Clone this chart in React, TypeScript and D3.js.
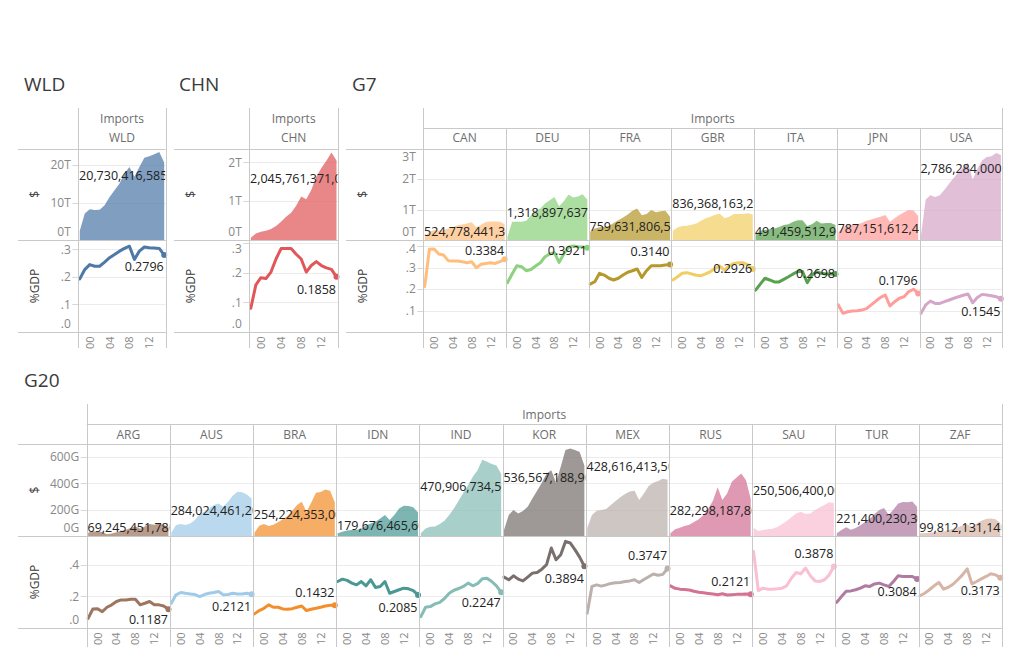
import React from 'react';
import * as d3 from 'd3';

// ---------------- DATA ----------------
const YEARS = [1998, 1999, 2000, 2001, 2002, 2003, 2004, 2005, 2006, 2007, 2008, 2009, 2010, 2011, 2012, 2013, 2014, 2015];
const X_TICKS = [2000, 2004, 2008, 2012];
const X_TICK_LABELS = ['00', '04', '08', '12'];

// Imports in billions of US$ and imports as share of GDP
const WLD_USD = [2500, 7100, 8200, 8000, 8100, 9300, 11500, 13300, 15100, 17800, 19500, 16900, 19500, 22000, 22400, 22900, 23500, 20730.416585];
const WLD_GDP = [0.193, 0.227, 0.245, 0.239, 0.239, 0.254, 0.27, 0.282, 0.294, 0.304, 0.312, 0.264, 0.294, 0.309, 0.306, 0.305, 0.304, 0.2796];

const CHN_USD = [60, 170, 210, 240, 280, 360, 470, 600, 700, 880, 1120, 1050, 1290, 1630, 1850, 2040, 2250, 2045.761371];
const CHN_GDP = [0.08, 0.159, 0.183, 0.18, 0.202, 0.246, 0.281, 0.281, 0.281, 0.262, 0.246, 0.202, 0.224, 0.237, 0.224, 0.216, 0.211, 0.1858];

const CAN_USD = [110, 270, 330, 300, 330, 380, 430, 480, 510, 540, 580, 410, 500, 590, 610, 610, 600, 524.7784413];
const CAN_GDP = [0.211, 0.385, 0.386, 0.363, 0.358, 0.332, 0.33, 0.33, 0.327, 0.322, 0.327, 0.299, 0.315, 0.319, 0.322, 0.319, 0.327, 0.3384];
const DEU_USD = [100, 600, 600, 600, 630, 815, 955, 1030, 1200, 1300, 1410, 1110, 1270, 1490, 1390, 1430, 1500, 1318.897637];
const DEU_GDP = [0.229, 0.27, 0.308, 0.304, 0.285, 0.291, 0.307, 0.322, 0.35, 0.363, 0.369, 0.324, 0.363, 0.394, 0.4, 0.397, 0.395, 0.3921];
const FRA_USD = [270, 380, 420, 430, 460, 560, 650, 740, 840, 960, 1030, 815, 850, 980, 910, 945, 955, 759.6318065];
const FRA_GDP = [0.223, 0.234, 0.273, 0.265, 0.25, 0.242, 0.25, 0.265, 0.278, 0.285, 0.293, 0.254, 0.285, 0.308, 0.308, 0.308, 0.312, 0.314];
const GBR_USD = [300, 410, 460, 470, 500, 540, 630, 710, 760, 830, 860, 710, 760, 850, 850, 850, 880, 836.3681632];
const GBR_GDP = [0.242, 0.257, 0.273, 0.276, 0.27, 0.264, 0.262, 0.27, 0.281, 0.296, 0.307, 0.288, 0.308, 0.319, 0.322, 0.322, 0.312, 0.2926];
const ITA_USD = [200, 300, 330, 350, 380, 430, 490, 520, 600, 650, 650, 460, 520, 630, 540, 560, 560, 491.4595129];
const ITA_GDP = [0.195, 0.223, 0.25, 0.242, 0.233, 0.233, 0.245, 0.257, 0.27, 0.281, 0.281, 0.229, 0.265, 0.281, 0.273, 0.27, 0.27, 0.2698];
const JPN_USD = [250, 430, 480, 500, 520, 560, 630, 670, 720, 760, 820, 600, 710, 820, 910, 980, 970, 787.1516124];
const JPN_GDP = [0.126, 0.087, 0.094, 0.098, 0.099, 0.102, 0.109, 0.126, 0.144, 0.161, 0.172, 0.121, 0.141, 0.157, 0.164, 0.188, 0.199, 0.1796];
const USA_USD = [150, 1330, 1470, 1410, 1470, 1650, 1850, 2040, 2230, 2390, 2530, 1980, 2340, 2610, 2720, 2750, 2850, 2786.284];
const USA_GDP = [0.087, 0.126, 0.144, 0.133, 0.133, 0.141, 0.149, 0.157, 0.164, 0.171, 0.177, 0.136, 0.16, 0.175, 0.172, 0.169, 0.164, 0.1545];

const ARG_USD = [25, 36, 35, 30, 14, 19, 28, 40, 47, 60, 75, 55, 73, 92, 86, 95, 84, 69.24545178];
const ARG_GDP = [0.061, 0.12, 0.122, 0.103, 0.131, 0.146, 0.167, 0.177, 0.177, 0.181, 0.181, 0.146, 0.156, 0.167, 0.146, 0.146, 0.139, 0.1187];
const AUS_USD = [25, 84, 91, 84, 96, 121, 167, 185, 210, 235, 248, 223, 261, 306, 337, 332, 316, 284.0244612];
const AUS_GDP = [0.156, 0.209, 0.224, 0.219, 0.215, 0.211, 0.198, 0.211, 0.219, 0.224, 0.23, 0.209, 0.211, 0.219, 0.215, 0.215, 0.219, 0.2121];
const BRA_USD = [25, 78, 91, 76, 86, 104, 127, 152, 192, 235, 261, 185, 253, 329, 334, 354, 344, 254.224353];
const BRA_GDP = [0.089, 0.11, 0.124, 0.146, 0.131, 0.131, 0.12, 0.118, 0.122, 0.131, 0.139, 0.11, 0.118, 0.124, 0.131, 0.139, 0.143, 0.1432];
const IDN_USD = [20, 33, 41, 46, 46, 58, 79, 96, 109, 134, 159, 121, 159, 210, 230, 228, 218, 179.6764656];
const IDN_GDP = [0.293, 0.308, 0.3, 0.283, 0.272, 0.293, 0.266, 0.304, 0.255, 0.262, 0.293, 0.219, 0.23, 0.241, 0.251, 0.247, 0.236, 0.2085];
const IND_USD = [20, 58, 71, 73, 91, 116, 159, 210, 268, 329, 387, 450, 501, 580, 564, 547, 537, 470.9067345];
const IND_GDP = [0.072, 0.131, 0.135, 0.152, 0.162, 0.186, 0.219, 0.238, 0.249, 0.262, 0.283, 0.266, 0.28, 0.31, 0.314, 0.293, 0.265, 0.2247];
const KOR_USD = [45, 159, 197, 172, 190, 223, 286, 344, 405, 476, 501, 405, 526, 655, 665, 655, 640, 536.5671889];
const KOR_GDP = [0.321, 0.304, 0.329, 0.308, 0.297, 0.321, 0.346, 0.35, 0.371, 0.399, 0.504, 0.43, 0.462, 0.546, 0.536, 0.494, 0.447, 0.3894];
const MEX_USD = [60, 159, 192, 197, 205, 235, 266, 294, 319, 339, 344, 273, 324, 380, 405, 418, 435, 428.6164135];
const MEX_GDP = [0.093, 0.262, 0.272, 0.264, 0.272, 0.281, 0.285, 0.287, 0.293, 0.297, 0.304, 0.287, 0.306, 0.323, 0.34, 0.333, 0.338, 0.3747];
const RUS_USD = [20, 51, 63, 76, 86, 106, 127, 159, 207, 268, 370, 273, 324, 412, 446, 476, 425, 282.2981878];
const RUS_GDP = [0.266, 0.25, 0.245, 0.243, 0.24, 0.232, 0.225, 0.222, 0.218, 0.214, 0.21, 0.216, 0.208, 0.21, 0.212, 0.213, 0.214, 0.2121];
const SAU_USD = [63, 38, 46, 51, 56, 68, 89, 114, 142, 172, 185, 167, 172, 197, 218, 235, 256, 250.5064];
const SAU_GDP = [0.483, 0.236, 0.251, 0.245, 0.245, 0.247, 0.251, 0.266, 0.314, 0.35, 0.342, 0.378, 0.329, 0.297, 0.293, 0.304, 0.335, 0.3878];
const TUR_USD = [20, 46, 66, 48, 61, 81, 106, 132, 167, 197, 213, 159, 202, 248, 258, 256, 263, 221.4002303];
const TUR_GDP = [0.162, 0.198, 0.232, 0.234, 0.241, 0.251, 0.266, 0.262, 0.278, 0.283, 0.272, 0.262, 0.293, 0.329, 0.325, 0.325, 0.325, 0.3084];
const ZAF_USD = [20, 20, 25, 28, 28, 35, 46, 56, 66, 79, 89, 71, 96, 116, 129, 134, 127, 99.81213114];
const ZAF_GDP = [0.203, 0.219, 0.241, 0.266, 0.287, 0.245, 0.257, 0.276, 0.304, 0.335, 0.373, 0.278, 0.293, 0.31, 0.325, 0.342, 0.335, 0.3173];

// ---------------- STYLE / LAYOUT ----------------
type Country = { code: string; color: string; usd: number[]; gdp: number[]; usdDy: number; gdpDy: number };

const C: Record<string, Country> = {
  WLD: { code: 'WLD', color: '#4e79a7', usd: WLD_USD, gdp: WLD_GDP, usdDy: 13.5, gdpDy: 11.5 },
  CHN: { code: 'CHN', color: '#e15759', usd: CHN_USD, gdp: CHN_GDP, usdDy: 17.5, gdpDy: 12.5 },
  CAN: { code: 'CAN', color: '#ffbe7d', usd: CAN_USD, gdp: CAN_GDP, usdDy: 12.5, gdpDy: -12.5 },
  DEU: { code: 'DEU', color: '#8cd17d', usd: DEU_USD, gdp: DEU_GDP, usdDy: 13, gdpDy: -12.5 },
  FRA: { code: 'FRA', color: '#b6992d', usd: FRA_USD, gdp: FRA_GDP, usdDy: 10, gdpDy: -12.8 },
  GBR: { code: 'GBR', color: '#f1ce63', usd: GBR_USD, gdp: GBR_GDP, usdDy: -11, gdpDy: -0.8 },
  ITA: { code: 'ITA', color: '#59a14f', usd: ITA_USD, gdp: ITA_GDP, usdDy: 12.5, gdpDy: -0.7 },
  JPN: { code: 'JPN', color: '#ff9d9a', usd: JPN_USD, gdp: JPN_GDP, usdDy: 12.4, gdpDy: -12.7 },
  USA: { code: 'USA', color: '#d4a6c8', usd: USA_USD, gdp: USA_GDP, usdDy: 13.2, gdpDy: 12.9 },
  ARG: { code: 'ARG', color: '#9d7660', usd: ARG_USD, gdp: ARG_GDP, usdDy: 12.5, gdpDy: 12.5 },
  AUS: { code: 'AUS', color: '#a0cbe8', usd: AUS_USD, gdp: AUS_GDP, usdDy: 12, gdpDy: 12.2 },
  BRA: { code: 'BRA', color: '#f28e2b', usd: BRA_USD, gdp: BRA_GDP, usdDy: 12.4, gdpDy: -12.7 },
  IDN: { code: 'IDN', color: '#499894', usd: IDN_USD, gdp: IDN_GDP, usdDy: 12.7, gdpDy: 12.6 },
  IND: { code: 'IND', color: '#86bcb6', usd: IND_USD, gdp: IND_GDP, usdDy: 12, gdpDy: 10.5 },
  KOR: { code: 'KOR', color: '#79706e', usd: KOR_USD, gdp: KOR_GDP, usdDy: 12, gdpDy: 12.5 },
  MEX: { code: 'MEX', color: '#bab0ac', usd: MEX_USD, gdp: MEX_GDP, usdDy: -13, gdpDy: -13 },
  RUS: { code: 'RUS', color: '#d37295', usd: RUS_USD, gdp: RUS_GDP, usdDy: 12, gdpDy: -12.8 },
  SAU: { code: 'SAU', color: '#fabfd2', usd: SAU_USD, gdp: SAU_GDP, usdDy: -13, gdpDy: -13.4 },
  TUR: { code: 'TUR', color: '#b07aa1', usd: TUR_USD, gdp: TUR_GDP, usdDy: 12, gdpDy: 12.4 },
  ZAF: { code: 'ZAF', color: '#d7b5a6', usd: ZAF_USD, gdp: ZAF_GDP, usdDy: 12.5, gdpDy: 12.8 },
};

type SheetCfg = {
  title: string; titleX: number; titleY: number; left: number; paneL: number; paneR: number;
  top: number; headerLine: number; importsY: number; colY: number;
  usdTop: number; mid: number; bottom: number; axisBottom: number;
  codes: string[]; usdMax: number; usdTicks: number[]; unit: 'T' | 'G';
  gdpMax: number; gdpTicks: number[];
};

const ROW1 = { top: 108, headerLine: 128, importsY: 123, colY: 142.3, usdTop: 148.5, mid: 240, bottom: 332, axisBottom: 348 };
const ROW2 = { top: 404, headerLine: 424, importsY: 419, colY: 439, usdTop: 444, mid: 536, bottom: 628, axisBottom: 647 };

const SHEETS: SheetCfg[] = [
  { title: 'WLD', titleX: 24, titleY: 91, left: 18, paneL: 78.3, paneR: 165.7, ...ROW1, codes: ['WLD'],
    usdMax: 24450, usdTicks: [0, 10000, 20000], unit: 'T', gdpMax: 0.3345, gdpTicks: [0, 0.1, 0.2, 0.3] },
  { title: 'CHN', titleX: 179, titleY: 91, left: 174, paneL: 249.3, paneR: 338, ...ROW1, codes: ['CHN'],
    usdMax: 2355, usdTicks: [0, 1000, 2000], unit: 'T', gdpMax: 0.31, gdpTicks: [0, 0.1, 0.2, 0.3] },
  { title: 'G7', titleX: 352, titleY: 91, left: 346, paneL: 423.3, paneR: 1002.3, ...ROW1,
    codes: ['CAN', 'DEU', 'FRA', 'GBR', 'ITA', 'JPN', 'USA'],
    usdMax: 3000, usdTicks: [0, 1000, 2000, 3000], unit: 'T', gdpMax: 0.428, gdpTicks: [0.1, 0.2, 0.3, 0.4] },
  { title: 'G20', titleX: 24, titleY: 387, left: 18, paneL: 86.7, paneR: 1001.7, ...ROW2,
    codes: ['ARG', 'AUS', 'BRA', 'IDN', 'IND', 'KOR', 'MEX', 'RUS', 'SAU', 'TUR', 'ZAF'],
    usdMax: 700, usdTicks: [0, 200, 400, 600], unit: 'G', gdpMax: 0.58, gdpTicks: [0, 0.2, 0.4] },
];

const FONT = "'Open Sans', 'Noto Sans', sans-serif";
const BORDER = '#c9c9c9';
const GRID = '#ececec';
const TICK_COLOR = '#888888';
const HEADER_COLOR = '#6e6e6e';
const LABEL_COLOR = '#222222';
const X_DOMAIN: [number, number] = [1997.7, 2015.3];

const px = (v: number) => Math.round(v) + 0.5;
const clamp = (v: number, lo: number, hi: number) => Math.max(lo, Math.min(hi, v));
const fmtGdpTick = (v: number) => d3.format('.1f')(v).replace(/^0/, '');
const fmtUsdLabel = (v: number) => d3.format(',.0f')(Math.round(v * 1e9));
const fmtGdpLabel = d3.format('.4f');

function Sheet({ s, idx }: { s: SheetCfg; idx: number }) {
  const n = s.codes.length;
  const colW = (s.paneR - s.paneL) / n;
  const yU = d3.scaleLinear().domain([0, s.usdMax]).range([s.mid, s.usdTop]);
  const yG = d3.scaleLinear().domain([0, s.gdpMax]).range([s.bottom, s.mid]);
  const fmtUsdTick = (v: number) => (s.unit === 'T' ? `${v / 1000}T` : `${v}G`);
  const tickX = s.paneL - 7.5;

  const cols = s.codes.map((code, i) => {
    const l = s.paneL + i * colW;
    const r = l + colW;
    const x = d3.scaleLinear().domain(X_DOMAIN).range([l, r]);
    return { code, l, r, x, c: C[code] };
  });

  return (
    <g>
      <text x={s.titleX} y={s.titleY} fontSize={19} fill="#3a3a3a" fontFamily={FONT}>{s.title}</text>

      {/* gridlines */}
      {s.usdTicks.map((t) => (
        <line key={'gu' + t} x1={s.paneL} x2={s.paneR} y1={px(yU(t))} y2={px(yU(t))} stroke={GRID} />
      ))}
      {s.gdpTicks.map((t) => (
        <line key={'gg' + t} x1={s.paneL} x2={s.paneR} y1={px(yG(t))} y2={px(yG(t))} stroke={GRID} />
      ))}

      {/* marks */}
      {cols.map(({ code, x, c }) => {
        const area = d3.area<number>()
          .x((_, i) => x(YEARS[i]))
          .y0(s.mid)
          .y1((d) => yU(d))(c.usd) as string;
        const line = d3.line<number>()
          .x((_, i) => x(YEARS[i]))
          .y((d) => yG(d))(c.gdp) as string;
        const last = YEARS.length - 1;
        return (
          <g key={code}>
            <path d={area} fill={c.color} fillOpacity={0.72} />
            <path d={line} fill="none" stroke={c.color} strokeWidth={3} strokeLinejoin="round" strokeLinecap="round" />
            <circle cx={x(YEARS[last])} cy={yG(c.gdp[last])} r={3} fill={c.color} />
          </g>
        );
      })}

      {/* tick marks */}
      {s.usdTicks.map((t) => (
        <line key={'tu' + t} x1={s.paneL - 6} x2={s.paneL} y1={px(yU(t))} y2={px(yU(t))} stroke="#d8d8d8" />
      ))}
      {s.gdpTicks.map((t) => (
        <line key={'tg' + t} x1={s.paneL - 6} x2={s.paneL} y1={px(yG(t))} y2={px(yG(t))} stroke="#d8d8d8" />
      ))}

      {/* borders */}
      {[s.usdTop, s.mid, s.bottom].map((y) => (
        <line key={'h' + y} x1={s.left} x2={s.paneR} y1={px(y)} y2={px(y)} stroke={BORDER} />
      ))}
      {n > 1 && <line x1={s.paneL} x2={s.paneR} y1={px(s.headerLine)} y2={px(s.headerLine)} stroke={BORDER} />}
      <line x1={px(s.paneL)} x2={px(s.paneL)} y1={s.top} y2={s.axisBottom} stroke={BORDER} />
      <line x1={px(s.paneR)} x2={px(s.paneR)} y1={s.top} y2={s.axisBottom} stroke={BORDER} />
      {cols.slice(1).map(({ code, l }) => (
        <line key={'v' + code} x1={px(l)} x2={px(l)} y1={s.headerLine} y2={s.axisBottom} stroke={BORDER} />
      ))}

      {/* headers */}
      <text x={(s.paneL + s.paneR) / 2} y={s.importsY} textAnchor="middle" fontSize={12} fill={HEADER_COLOR} fontFamily={FONT}>Imports</text>
      {cols.map(({ code, l, r }) => (
        <text key={'hd' + code} x={(l + r) / 2} y={s.colY} textAnchor="middle" fontSize={12} fill={HEADER_COLOR} fontFamily={FONT}>{code}</text>
      ))}

      {/* row labels */}
      <text transform={`translate(${s.left + 21},${(s.usdTop + s.mid) / 2}) rotate(-90)`} textAnchor="middle" fontSize={12} fill="#3a3a3a" fontFamily={FONT}>$</text>
      <text transform={`translate(${s.left + 21},${(s.mid + s.bottom) / 2}) rotate(-90)`} textAnchor="middle" fontSize={12} fill="#3a3a3a" fontFamily={FONT}>%GDP</text>

      {/* axis tick labels */}
      {s.usdTicks.map((t) => (
        <text key={'lu' + t} x={tickX} y={clamp(yU(t), s.usdTop + 8.5, s.mid - 8.3) + 4.3} textAnchor="end" fontSize={12} fill={TICK_COLOR} fontFamily={FONT}>{fmtUsdTick(t)}</text>
      ))}
      {s.gdpTicks.map((t) => (
        <text key={'lg' + t} x={tickX} y={clamp(yG(t), s.mid + 8.5, s.bottom - 8.3) + 4.3} textAnchor="end" fontSize={12} fill={TICK_COLOR} fontFamily={FONT}>{fmtGdpTick(t)}</text>
      ))}

      {/* x axis labels */}
      {cols.map(({ code, x }) =>
        X_TICKS.map((yr, k) => (
          <text key={'x' + code + yr} transform={`translate(${x(yr) + 4},${s.bottom + 4.5}) rotate(-90)`} textAnchor="end" fontSize={11} fill={TICK_COLOR} fontFamily={FONT}>{X_TICK_LABELS[k]}</text>
        ))
      )}

      {/* clip paths */}
      <defs>
        {cols.map(({ code, l, r }) => (
          <clipPath key={'cp' + code} id={`clip-${idx}-${code}`}>
            <rect x={l + 0.5} y={s.usdTop} width={r - l - 1} height={s.mid - s.usdTop} />
          </clipPath>
        ))}
      </defs>

      {/* mark labels */}
      {cols.map(({ code, x, c, l }) => {
        const last = YEARS.length - 1;
        const yu = clamp(yU(c.usd[last]) + c.usdDy, s.usdTop + 10.5, s.mid - 9);
        const yg = clamp(yG(c.gdp[last]) + c.gdpDy, s.mid + 10.7, s.bottom - 9);
        return (
          <g key={'ml' + code}>
            <g clipPath={`url(#clip-${idx}-${code})`}>
              <text x={l + 0.8} y={yu + 4.5} fontSize={12.5} fill={LABEL_COLOR} fontFamily={FONT}>{fmtUsdLabel(c.usd[last])}</text>
            </g>
            <text x={x(YEARS[last]) - 0.5} y={yg + 4.5} textAnchor="end" fontSize={12.5} fill={LABEL_COLOR} fontFamily={FONT}>{fmtGdpLabel(c.gdp[last])}</text>
          </g>
        );
      })}
    </g>
  );
}

export default function App() {
  return (
    <svg width={1017} height={669} style={{ position: 'absolute', left: 0, top: 0, background: '#fff' }}>
      <rect x={0} y={0} width={1017} height={669} fill="#fff" />
      {SHEETS.map((s, i) => (
        <Sheet key={s.title} s={s} idx={i} />
      ))}
    </svg>
  );
}
